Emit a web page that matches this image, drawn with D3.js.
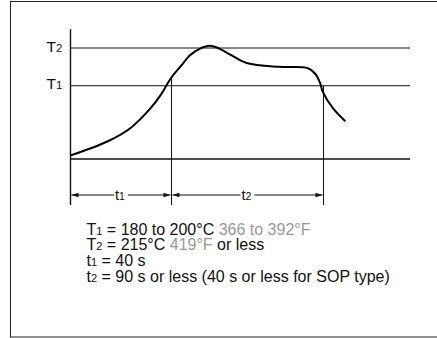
<!DOCTYPE html>
<meta charset="utf-8">
<style>
  body { margin: 0; background: #fff; }
  svg text { font-family: "Liberation Sans", Arial, sans-serif; }
</style>
<body>
<div id="chart"></div>
<script src="https://cdn.jsdelivr.net/npm/d3@7"></script>
<script>
// reflow profile, time in s, temperature in relative units (0 = base, 100 = T2)
const profileTime = [0, 15, 24, 32, 36, 40, 44, 47.5, 51.5, 55.5, 59.5, 63.5, 70, 83, 94, 97, 99, 100, 104, 109];
const profileTemp = [3, 16, 28, 46, 58, 73, 84, 93.5, 99.5, 102, 99, 94, 86.5, 83, 82, 77, 68.5, 61, 46, 34];

const levelNames = ["T1", "T2"];
const levelValues = [66, 100];

// boundaries of the t1 / t2 windows, and where each drop line starts
const markTimes = [0, 40, 100];
const markTops = [117, 73, 66];
const spanNames = ["t1", "t2"];

const noteLines = [
  [["T", 0], ["1", 1], [" = 180 to 200°C ", 0], ["366 to 392°F", 2]],
  [["T", 0], ["2", 1], [" = 215°C ", 0], ["419°F", 2], [" or less", 0]],
  [["t", 0], ["1", 1], [" = 40 s", 0]],
  [["t", 0], ["2", 1], [" = 90 s or less (40 s or less for SOP type)", 0]]
];

const W = 437, H = 338;
const svg = d3.select("#chart").append("svg")
  .attr("width", W).attr("height", H);

svg.append("rect")
  .attr("x", 10.5).attr("y", 1.5)
  .attr("width", 440).attr("height", 335.5)
  .attr("fill", "none").attr("stroke", "#222").attr("stroke-width", 1);

const x = d3.scaleLinear().domain([0, 134.6]).range([70, 410]);
const y = d3.scaleLinear().domain([0, 100]).range([159, 48]);

// level lines + labels
svg.selectAll(".level")
  .data(levelValues)
  .join("line")
  .attr("x1", x(0)).attr("x2", x(134.6))
  .attr("y1", d => y(d)).attr("y2", d => y(d))
  .attr("stroke", "#111").attr("stroke-width", 1);

const lab = svg.selectAll(".lvlab")
  .data(levelNames)
  .join("text")
  .attr("x", 46.5)
  .attr("y", (d, i) => y(levelValues[i]) + 3.5)
  .attr("font-size", 15.5)
  .attr("fill", "#111");
lab.append("tspan").text(d => d[0]);
lab.append("tspan").attr("font-size", 11.5).text(d => d[1]);

// base line
svg.append("line")
  .attr("x1", x(0)).attr("x2", x(134.6))
  .attr("y1", y(0)).attr("y2", y(0))
  .attr("stroke", "#111").attr("stroke-width", 1.4);

// vertical drop lines
const arrowY = 195;
svg.selectAll(".drop")
  .data(markTimes)
  .join("line")
  .attr("x1", d => Math.round(x(d)) + 0.5).attr("x2", d => Math.round(x(d)) + 0.5)
  .attr("y1", (d, i) => y(markTops[i])).attr("y2", 205)
  .attr("stroke", "#111").attr("stroke-width", (d, i) => i === 0 ? 1.4 : 1);

// profile curve
const pts = profileTime.map((t, i) => [t, profileTemp[i]]);
svg.append("path")
  .datum(pts)
  .attr("d", d3.line().x(d => x(d[0])).y(d => y(d[1])).curve(d3.curveCatmullRom.alpha(0.5)))
  .attr("fill", "none").attr("stroke", "#000").attr("stroke-width", 2);

// dimension arrows
function arrowHead(px, dir) {
  const L = 7, w = 2.3;
  return `M${px},${arrowY}L${px - dir * L},${arrowY - w}L${px - dir * L},${arrowY + w}Z`;
}
spanNames.forEach((name, i) => {
  const a = Math.round(x(markTimes[i])) + 1.5;
  const b = Math.round(x(markTimes[i + 1])) - 0.5;
  const mid = (a + b) / 2;
  svg.append("line")
    .attr("x1", a).attr("x2", mid - 7)
    .attr("y1", arrowY).attr("y2", arrowY)
    .attr("stroke", "#111").attr("stroke-width", 1);
  svg.append("line")
    .attr("x1", mid + 7).attr("x2", b)
    .attr("y1", arrowY).attr("y2", arrowY)
    .attr("stroke", "#111").attr("stroke-width", 1);
  svg.append("path").attr("d", arrowHead(a, -1)).attr("fill", "#111");
  svg.append("path").attr("d", arrowHead(b, 1)).attr("fill", "#111");
  const t = svg.append("text")
    .attr("x", mid - 1).attr("y", arrowY + 5)
    .attr("text-anchor", "middle")
    .attr("font-size", 14.5).attr("fill", "#111");
  t.append("tspan").text(name[0]);
  t.append("tspan").attr("font-size", 10.5).text(name[1]);
});

// notes
const colors = ["#111", "#111", "#999"];
noteLines.forEach((segs, i) => {
  const t = svg.append("text")
    .attr("x", 86.5).attr("y", 234.5 + i * 15.7)
    .attr("font-size", 16)
    .style("white-space", "pre");
  segs.forEach(([s, k]) => {
    t.append("tspan")
      .attr("fill", colors[k])
      .attr("font-size", k === 1 ? 11 : null)
      .text(s);
  });
});
</script>
</body>
